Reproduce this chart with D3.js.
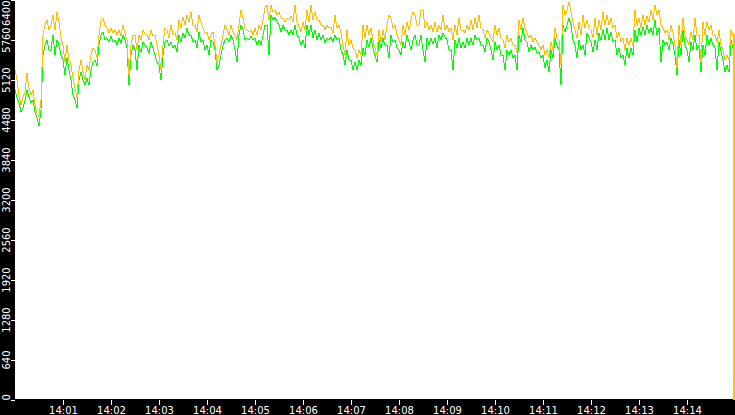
<!DOCTYPE html>
<html>
<head>
<meta charset="utf-8">
<script src="https://cdn.jsdelivr.net/npm/d3@7"></script>
<style>
  html, body { margin: 0; padding: 0; background: #000; }
  svg { display: block; }
  .tick text { font-family: "DejaVu Sans", sans-serif; font-size: 10px; fill: #fff; }
  .tick line { stroke: #fff; }
</style>
</head>
<body>
<div id="app"></div>
<script>
// one reading every 2.5 s from 14:00:00, then the last reading
const startTime = new Date(2020, 0, 1, 14, 0, 0);
const stepSeconds = 2.5;
const lastSecond = 898.75;

const orangeValues = [
  5272, 5112, 4872, 4712, 4840, 4920, 5224, 4984, 4872, 4952,
  4712, 4584, 4520, 4792, 5832, 5992, 6072, 5912, 5992, 6152,
  5912, 6200, 6040, 5784, 5672, 5400, 5672, 5432, 5352, 5144,
  4984, 4824, 5272, 5432, 5240, 5112, 5352, 5272, 5512, 5624,
  5592, 5464, 5832, 6072, 6104, 5992, 5944, 5864, 5944, 5864,
  5912, 5832, 5912, 5816, 5992, 5864, 5752, 5192, 5672, 5832,
  5832, 5592, 5832, 5752, 5912, 5848, 5832, 5752, 5912, 5816,
  5832, 5672, 5512, 5272, 5672, 5944, 5912, 5784, 5992, 5832,
  5864, 5752, 6072, 5944, 6120, 5992, 6152, 6040, 6200, 5992,
  5992, 5880, 6152, 6040, 5944, 5848, 5880, 5752, 5832, 5880,
  5672, 5400, 5512, 5672, 5832, 5992, 5912, 5832, 5992, 5880,
  5832, 5752, 5992, 6232, 6104, 5944, 5912, 5880, 5912, 5832,
  5944, 5832, 5992, 5912, 6072, 6264, 6312, 6072, 6312, 6200,
  6232, 6152, 6200, 6104, 6104, 6040, 6104, 6072, 6136, 6040,
  6312, 6040, 5960, 5880, 6040, 5912, 6232, 6040, 6312, 6072,
  6200, 6072, 6072, 5992, 5992, 5912, 5992, 5944, 5960, 5864,
  6152, 5944, 5992, 5864, 5672, 5512, 5912, 5672, 5752, 5624,
  5592, 5464, 5592, 5512, 5992, 5784, 5992, 5832, 5944, 5752,
  5624, 5512, 5912, 5720, 5912, 5752, 5992, 6152, 6104, 5944,
  5992, 5832, 5752, 5672, 5992, 5832, 6040, 5912, 6072, 6200,
  6152, 5992, 5992, 6232, 6232, 5944, 6040, 5912, 5992, 5880,
  6040, 5880, 5992, 5912, 6152, 5912, 5992, 5880, 5944, 5752,
  5992, 5832, 6104, 5912, 5912, 5864, 5992, 5912, 6072, 5912,
  6104, 5944, 6152, 5944, 5912, 5784, 5912, 5864, 5784, 5720,
  5992, 5832, 5944, 5784, 5752, 5624, 5832, 5720, 5784, 5672,
  5672, 5560, 6072, 5912, 6104, 5944, 5864, 5784, 5832, 5720,
  5784, 5720, 5672, 5592, 5672, 5512, 5592, 5464, 5720, 5592,
  5944, 5784, 5752, 5352, 6312, 6152, 6232, 6360, 6200, 6040,
  5912, 5784, 6040, 5832, 6152, 5944, 6072, 5944, 5912, 5784,
  6104, 5832, 6072, 5912, 6200, 5992, 6152, 5992, 6104, 5944,
  5992, 5784, 5880, 5720, 5784, 5592, 5784, 5672, 5784, 5672,
  6232, 5992, 6104, 5944, 6152, 5992, 6136, 6040, 6232, 6072,
  6312, 6152, 6232, 5992, 5944, 5864, 5912, 5752, 5992, 5864,
  5672, 5304, 5992, 5672, 6104, 5832, 5752, 5672, 5880, 5752,
  6104, 5832, 5832, 5400, 6040, 5832, 6040, 5912, 5992, 5832,
  5832, 5720, 5912, 5672, 5592, 5432, 5512, 5432, 5912, 5832
];
const orangeLast = 0;

const greenValues = [
  4952, 4824, 4744, 4600, 4664, 4792, 4952, 4840, 4744, 4792,
  4600, 4504, 4376, 4632, 5512, 5672, 5752, 5592, 5592, 5832,
  5512, 5752, 5672, 5512, 5432, 5192, 5464, 5272, 5112, 4872,
  4792, 4664, 5112, 5240, 5112, 5032, 5144, 5032, 5272, 5400,
  5432, 5336, 5672, 5832, 5880, 5752, 5784, 5720, 5816, 5720,
  5752, 5672, 5784, 5704, 5832, 5752, 5624, 5032, 5512, 5672,
  5592, 5272, 5672, 5560, 5720, 5672, 5624, 5544, 5720, 5624,
  5512, 5400, 5352, 5112, 5512, 5720, 5752, 5656, 5720, 5624,
  5672, 5560, 5832, 5720, 5864, 5784, 5944, 5832, 5832, 5720,
  5752, 5624, 5880, 5720, 5752, 5592, 5672, 5512, 5752, 5720,
  5592, 5272, 5352, 5512, 5672, 5752, 5784, 5720, 5832, 5752,
  5592, 5400, 5832, 5992, 5912, 5752, 5784, 5752, 5816, 5752,
  5784, 5672, 5752, 5672, 5832, 5992, 5992, 5512, 6152, 6072,
  6120, 6040, 5992, 5880, 5992, 5912, 5912, 5832, 5912, 5832,
  5992, 5832, 5784, 5672, 5752, 5624, 5992, 5832, 5992, 5784,
  5912, 5752, 5864, 5752, 5832, 5704, 5784, 5752, 5800, 5720,
  5832, 5752, 5784, 5592, 5512, 5352, 5592, 5432, 5432, 5272,
  5400, 5272, 5432, 5352, 5624, 5512, 5752, 5640, 5784, 5624,
  5512, 5400, 5752, 5624, 5784, 5672, 5672, 5464, 5832, 5720,
  5752, 5624, 5592, 5512, 5720, 5624, 5832, 5720, 5592, 5752,
  5832, 5672, 5672, 5832, 5592, 5400, 5784, 5672, 5784, 5688,
  5784, 5624, 5832, 5752, 5864, 5800, 5752, 5592, 5592, 5272,
  5752, 5624, 5784, 5624, 5720, 5624, 5784, 5672, 5784, 5672,
  5832, 5752, 5784, 5672, 5672, 5560, 5784, 5720, 5592, 5432,
  5720, 5592, 5672, 5512, 5512, 5272, 5592, 5512, 5592, 5464,
  5512, 5272, 5832, 5720, 5944, 5752, 5720, 5560, 5672, 5592,
  5640, 5544, 5560, 5464, 5512, 5304, 5432, 5240, 5592, 5464,
  5784, 5672, 5592, 5032, 5992, 5880, 5992, 6104, 5992, 5752,
  5672, 5464, 5752, 5592, 5672, 5512, 5864, 5784, 5720, 5560,
  5752, 5592, 5864, 5752, 5912, 5752, 5944, 5752, 5880, 5720,
  5752, 5512, 5624, 5464, 5512, 5352, 5624, 5464, 5624, 5512,
  5912, 5720, 5944, 5832, 5960, 5832, 5992, 5864, 5944, 5832,
  6072, 5832, 5944, 5400, 5752, 5672, 5720, 5592, 5784, 5688,
  5512, 5192, 5752, 5512, 5912, 5672, 5592, 5400, 5720, 5592,
  5832, 5592, 5672, 5240, 5672, 5512, 5832, 5672, 5784, 5672,
  5624, 5272, 5720, 5560, 5432, 5240, 5352, 5240, 5752, 5624
];
const greenLast = 2900;

const yTicks = [0, 640, 1280, 1920, 2560, 3200, 3840, 4480, 5120, 5760, 6400];
const xTicks = ["14:01", "14:02", "14:03", "14:04", "14:05", "14:06", "14:07",
  "14:08", "14:09", "14:10", "14:11", "14:12", "14:13", "14:14"];

const width = 735, height = 415;
const left = 15, bottom = 399;

const svg = d3.select("#app")
  .append("svg")
  .attr("width", width)
  .attr("height", height);

svg.append("rect")
  .attr("width", width)
  .attr("height", height)
  .attr("fill", "#000");

svg.append("rect")
  .attr("x", left)
  .attr("y", 0)
  .attr("width", width - left)
  .attr("height", bottom)
  .attr("fill", "#fff");

const secondsToDate = s => new Date(startTime.getTime() + s * 1000);

const x = d3.scaleTime()
  .domain([startTime, secondsToDate(900)])
  .range([left, width]);

const y = d3.scaleLinear()
  .domain([0, 6400])
  .range([bottom + 0.5, -0.5]);

const toPoints = values => values.map((v, i) => ({ t: secondsToDate(i * stepSeconds), v: v }));

const line = d3.line()
  .x(d => x(d.t))
  .y(d => y(d.v));

// the closing drop is drawn as a step so it stays a clean vertical
const stepLine = d3.line()
  .x(d => x(d.t))
  .y(d => y(d.v))
  .curve(d3.curveStepAfter);

const plot = svg.append("g");

function drawSeries(values, last, colour) {
  const pts = toPoints(values);
  plot.append("path")
    .datum(pts)
    .attr("d", line)
    .attr("fill", "none")
    .attr("stroke", colour)
    .attr("stroke-width", 1)
    .attr("shape-rendering", "crispEdges");
  plot.append("path")
    .datum([pts[pts.length - 1], { t: secondsToDate(lastSecond), v: last }])
    .attr("d", stepLine)
    .attr("fill", "none")
    .attr("stroke", colour)
    .attr("stroke-width", 2)
    .attr("shape-rendering", "crispEdges");
}

drawSeries(greenValues, greenLast, "#00ff00");
drawSeries(orangeValues, orangeLast, "#ffc000");

// y axis, labels turned on their side and kept inside the band
const yAxis = svg.append("g")
  .attr("transform", `translate(${left},0)`)
  .call(d3.axisLeft(y).tickValues(yTicks).tickSize(4).tickFormat(d3.format("d")));
yAxis.select(".domain").remove();
yAxis.selectAll(".tick line").attr("shape-rendering", "crispEdges");
yAxis.selectAll(".tick text")
  .attr("text-anchor", "middle")
  .attr("dy", null)
  .attr("transform", "rotate(-90)")
  .attr("y", -5)
  .attr("x", function(d) {
    const half = this.getComputedTextLength() / 2;
    const pos = y(d);
    const centre = Math.max(half, Math.min(bottom + 1 - half, pos));
    return -(centre - pos);
  });

// x axis
const parseMinute = d3.timeParse("%H:%M");
const xTickDates = xTicks.map(s => {
  const p = parseMinute(s);
  return new Date(startTime.getFullYear(), startTime.getMonth(), startTime.getDate(), p.getHours(), p.getMinutes());
});

const xAxis = svg.append("g")
  .attr("transform", `translate(0,${bottom + 1})`)
  .call(d3.axisBottom(x).tickValues(xTickDates).tickSize(5).tickFormat(d3.timeFormat("%H:%M")));
xAxis.select(".domain").remove();
xAxis.selectAll(".tick line").attr("shape-rendering", "crispEdges");
xAxis.selectAll(".tick text").attr("y", 7);
</script>
</body>
</html>
